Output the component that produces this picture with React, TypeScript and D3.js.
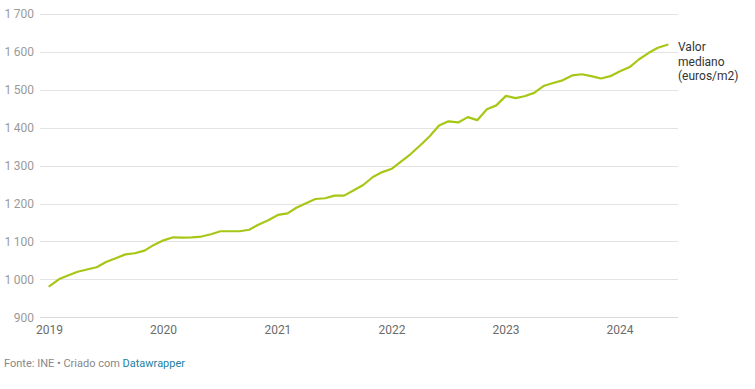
import React from "react";
import * as d3 from "d3";

const startYear = 2019;
const startMonth = 0;
const values: number[] = [
  // 2019
  982, 1001, 1010, 1020, 1026, 1032, 1046, 1056, 1066, 1069, 1076, 1091,
  // 2020
  1103, 1111, 1110, 1111, 1113, 1119, 1127, 1127, 1127, 1131, 1145, 1156,
  // 2021
  1170, 1174, 1189, 1201, 1212, 1214, 1221, 1221, 1235, 1249, 1270, 1283,
  // 2022
  1292, 1312, 1330, 1353, 1377, 1406, 1417, 1414, 1428, 1420, 1449, 1459,
  // 2023
  1484, 1478, 1483, 1492, 1510, 1518, 1525, 1538, 1541, 1536, 1530, 1536,
  // 2024
  1549, 1560, 1580, 1597, 1611, 1619,
];
const yTicks: number[] = [900, 1000, 1100, 1200, 1300, 1400, 1500, 1600, 1700];
const xTickYears: number[] = [2019, 2020, 2021, 2022, 2023, 2024];
const seriesLabel: string[] = ["Valor", "mediano", "(euros/m2)"];
const sourceText = "Fonte: INE • Criado com ";
const sourceLink = "Datawrapper";

const W = 755;
const H = 389;
const FONT = "Roboto, 'Noto Sans', Arial, sans-serif";

export default function App() {
  const data = values.map((v, i) => ({
    date: new Date(startYear, startMonth + i, 1),
    value: v,
  }));
  const x = d3
    .scaleTime()
    .domain([data[0].date, data[data.length - 1].date])
    .range([49.5, 667.5]);
  const y = d3.scaleLinear().domain([900, 1700]).range([317.3, 14]);
  const line = d3
    .line<{ date: Date; value: number }>()
    .x((d) => x(d.date))
    .y((d) => y(d.value));
  const fmt = (v: number) => {
    const s = String(v);
    return s.length > 3 ? s.slice(0, s.length - 3) + "\u2009" + s.slice(-3) : s;
  };
  const last = data[data.length - 1];
  return (
    <svg
      width={W}
      height={H}
      style={{ position: "absolute", left: 0, top: 0, background: "#fff" }}
      fontFamily={FONT}
    >
      {yTicks.map((t) => (
        <g key={t}>
          <line
            x1={40}
            x2={678}
            y1={Math.round(y(t)) + 0.5}
            y2={Math.round(y(t)) + 0.5}
            stroke={t === 900 ? "#d9d9d9" : "#e3e3e3"}
            strokeWidth={1}
          />
          <text
            x={34}
            y={y(t)}
            dy="0.35em"
            textAnchor="end"
            fontSize={12}
            fill="#9a9a9a"
          >
            {fmt(t)}
          </text>
        </g>
      ))}
      {xTickYears.map((yr) => (
        <text
          key={yr}
          x={x(new Date(yr, 0, 1))}
          y={330}
          dy="0.35em"
          textAnchor="middle"
          fontSize={12}
          fill="#6b6b6b"
        >
          {yr}
        </text>
      ))}
      <path
        d={line(data) || ""}
        fill="none"
        stroke="#a6c716"
        strokeWidth={2.2}
        strokeLinejoin="round"
        strokeLinecap="round"
      />
      <text x={678} y={y(last.value) + 6.5} fontSize={12} fill="#333">
        {seriesLabel.map((s, i) => (
          <tspan key={i} x={678} dy={i === 0 ? 0 : 14.5}>
            {s}
          </tspan>
        ))}
      </text>
      <text x={4} y={363} dy="0.35em" fontSize={11} fill="#888">
        {sourceText}
        <tspan fill="#1d81a2">{sourceLink}</tspan>
      </text>
    </svg>
  );
}
